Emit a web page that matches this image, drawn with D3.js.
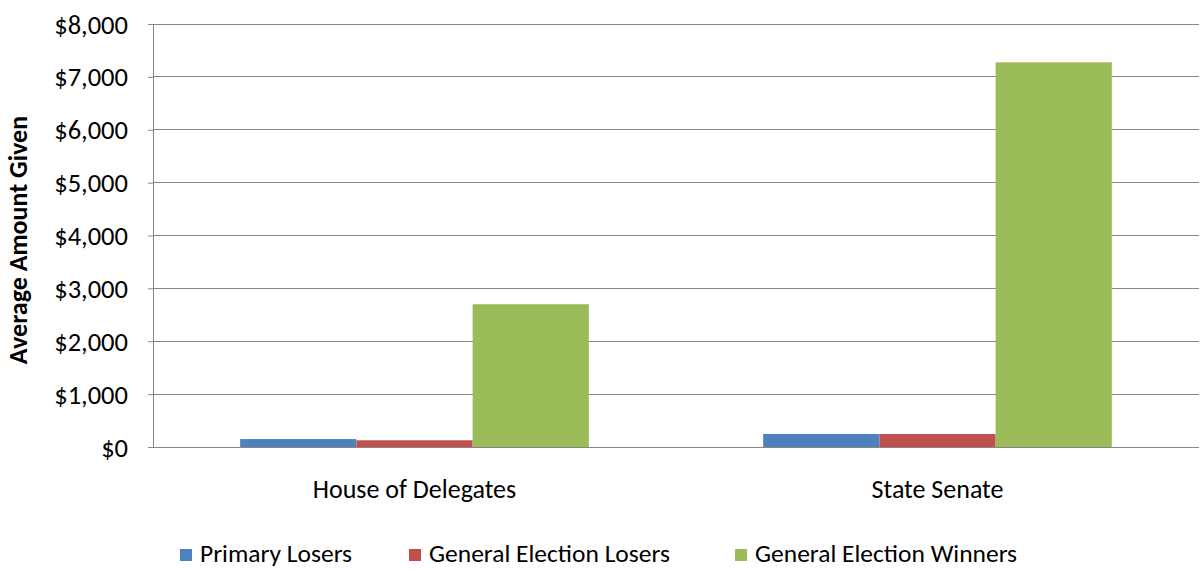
<!DOCTYPE html>
<html><head><meta charset="utf-8">
<script src="https://cdn.jsdelivr.net/npm/d3@7"></script>
<style>body{margin:0;background:#fff;} svg{display:block;} text{font-family:Carlito, Lato, "Liberation Sans", sans-serif;}</style>
</head><body><svg id="c" width="1203" height="569"></svg>
<script>
const categories = ["House of Delegates", "State Senate"];
const seriesNames = ["Primary Losers", "General Election Losers", "General Election Winners"];
const primaryLosers = [150, 246];
const generalLosers = [127, 246];
const generalWinners = [2700, 7275];
const yTicks = [0,1000,2000,3000,4000,5000,6000,7000,8000];
const colors = ["#4F81BD", "#C0504D", "#9BBB59"];

const values = [primaryLosers, generalLosers, generalWinners];
const svg = d3.select("#c");
const L = 153, R = 1199, T = 24, B = 447;
const x = d3.scaleBand().domain(categories).range([L, R]).paddingInner(0).paddingOuter(0);
const y = d3.scaleLinear().domain([0, 8000]).range([B, T]);
const bw = x.bandwidth() / (3 + 1.5);
const xs = d3.scaleBand().domain(seriesNames).range([bw*0.75, x.bandwidth() - bw*0.75]).padding(0);

// gridlines
svg.append("g").selectAll("line").data(yTicks.filter(d=>d>0)).join("line")
  .attr("x1", L).attr("x2", R).attr("y1", d=>y(d)).attr("y2", d=>y(d))
  .attr("stroke", "#868686").attr("stroke-width", 1).attr("shape-rendering","crispEdges");

// bars
categories.forEach((c, ci) => {
  seriesNames.forEach((s, si) => {
    svg.append("rect")
      .attr("x", x(c) + xs(s)).attr("width", xs.bandwidth())
      .attr("y", y(values[si][ci])).attr("height", B - y(values[si][ci]))
      .attr("fill", colors[si]);
  });
});

// y axis
const yAxis = d3.axisLeft(y).tickValues(yTicks).tickSize(5).tickPadding(20)
  .tickFormat(d => "$" + d3.format(",")(d));
const gy = svg.append("g").attr("transform", `translate(${L},0)`).call(yAxis);
gy.select(".domain").attr("stroke", "#868686");
gy.selectAll(".tick line").attr("stroke", "#868686");
gy.selectAll("text").attr("font-size", 26.5).attr("fill", "#000").attr("dy", "0.34em");

// x axis
const xAxis = d3.axisBottom(x).tickSize(0).tickPadding(33);
const gx = svg.append("g").attr("transform", `translate(0,${B})`).call(xAxis);
gx.select(".domain").attr("stroke", "#868686").attr("d", `M${L-5},0.5H${R}`);
gx.selectAll("text").attr("font-size", 26).attr("fill", "#000");

// y title
svg.append("text").attr("transform", "translate(27,240) rotate(-90)")
  .attr("text-anchor", "middle").attr("font-size", 26).attr("font-weight", "bold")
  .text("Average Amount Given");

// legend
const legendX = [180, 409, 735];
const lg = svg.append("g");
seriesNames.forEach((s, i) => {
  lg.append("rect").attr("x", legendX[i]).attr("y", 549).attr("width", 12).attr("height", 12).attr("fill", colors[i]);
  lg.append("text").attr("x", legendX[i] + 20).attr("y", 562).attr("font-size", 25.5).text(s);
});
</script></body></html>
